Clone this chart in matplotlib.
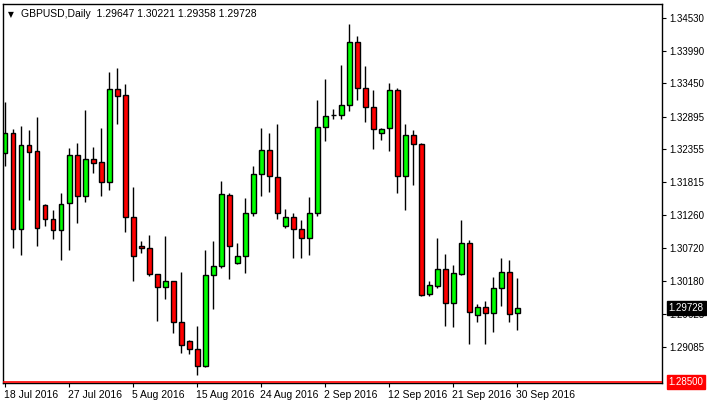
import matplotlib
matplotlib.use("Agg")
import matplotlib.pyplot as plt
from matplotlib.patches import Rectangle
import matplotlib.transforms as mtrans

plt.rcParams['font.family'] = ['Liberation Sans', 'DejaVu Sans']

opens = [1.3229,1.3263,1.3104,1.3243,1.3233,1.3143,1.3120,1.3102,1.3147,1.3226,
         1.3158,1.3220,1.3215,1.3182,1.3336,1.3326,1.3123,1.3075,1.3072,1.3029,
         1.3007,1.3017,1.2949,1.2918,1.2905,1.2876,1.3027,1.3042,1.3160,1.3047,
         1.3059,1.3130,1.3195,1.3234,1.3190,1.3109,1.3123,1.3104,1.3089,1.3130,
         1.3273,1.3292,1.3292,1.3309,1.3413,1.3337,1.3306,1.3263,1.3271,1.3334,
         1.3191,1.3259,1.3244,1.2996,1.3009,1.3037,1.2981,1.3029,1.3080,1.2961,
         1.2974,1.2964,1.3006,1.3032,1.29647]
highs = [1.3314,1.3269,1.3274,1.3268,1.3289,1.3144,1.3135,1.3163,1.3238,1.3246,
         1.3301,1.3239,1.3271,1.3364,1.3370,1.3344,1.3173,1.3084,1.3094,1.3029,
         1.3092,1.3017,1.3032,1.2920,1.2943,1.3069,1.3084,1.3183,1.3163,1.3080,
         1.3155,1.3208,1.3271,1.3263,1.3278,1.3137,1.3130,1.3118,1.3157,1.3317,
         1.3352,1.3302,1.3375,1.3443,1.3423,1.3374,1.3334,1.3271,1.3345,1.3337,
         1.3278,1.3268,1.3246,1.3017,1.3089,1.3062,1.3044,1.3118,1.3085,1.2979,
         1.2984,1.3024,1.3055,1.3052,1.30221]
lows = [1.3208,1.3072,1.3061,1.3152,1.3075,1.3109,1.3087,1.3052,1.3069,1.3114,
        1.3148,1.3196,1.3158,1.3168,1.3278,1.3099,1.3017,1.3064,1.3026,1.2951,
        1.2988,1.2931,1.2898,1.2896,1.2862,1.2874,1.2971,1.3039,1.3021,1.3046,
        1.3031,1.3125,1.3158,1.3165,1.3120,1.3105,1.3056,1.3056,1.3061,1.3125,
        1.3249,1.3286,1.3286,1.3299,1.3317,1.3281,1.3236,1.3251,1.3233,1.3163,
        1.3135,1.3176,1.2993,1.2993,1.3006,1.2943,1.2941,1.3027,1.2913,1.2949,
        1.2913,1.2933,1.2976,1.2949,1.29358]
closes = [1.3263,1.3104,1.3243,1.3231,1.3105,1.3120,1.3102,1.3145,1.3226,1.3158,
          1.3220,1.3213,1.3182,1.3336,1.3324,1.3123,1.3059,1.3072,1.3029,1.3007,
          1.3017,1.2949,1.2911,1.2905,1.2876,1.3027,1.3042,1.3162,1.3075,1.3059,
          1.3130,1.3195,1.3234,1.3191,1.3130,1.3123,1.3104,1.3089,1.3130,1.3273,
          1.3291,1.3293,1.3309,1.3413,1.3337,1.3306,1.3269,1.3269,1.3334,1.3191,
          1.3259,1.3244,1.2994,1.3011,1.3037,1.2981,1.3031,1.3080,1.2966,1.2974,
          1.2964,1.3006,1.3032,1.2962,1.29728]

date_labels = ["18 Jul 2016","27 Jul 2016","5 Aug 2016","15 Aug 2016","24 Aug 2016",
               "2 Sep 2016","12 Sep 2016","21 Sep 2016","30 Sep 2016"]
date_idx = [0, 8, 16, 24, 32, 40, 48, 56, 64]
price_ticks = [1.34530,1.33990,1.33450,1.32895,1.32355,1.31815,1.31260,1.30720,1.30180,1.29625,1.29085]
last_price = 1.29728
bottom_price = 1.28500
title = "GBPUSD,Daily  1.29647 1.30221 1.29358 1.29728"

W, H = 707, 407
fig = plt.figure(figsize=(W/100, H/100), dpi=100)
ax = fig.add_axes([3/W, 1-383/H, 659/W, 379/H])
ax.set_xlim(-0.25, 82.1)
ax.set_ylim(1.34828-0.0001657*383, 1.34828-0.0001657*4)

bw = 0.62
for i,(o,h,l,c) in enumerate(zip(opens,highs,lows,closes)):
    ax.plot([i,i],[l,h],color='black',lw=1.0,zorder=1,solid_capstyle='butt')
    col = '#00ff00' if c >= o else '#ff0000'
    bot = min(o,c); ht = max(abs(c-o), 0.00004)
    ax.add_patch(Rectangle((i-bw/2, bot), bw, ht, facecolor=col, edgecolor='black', lw=1.0, zorder=2))

ax.axhline(bottom_price, color='#ff0000', lw=1.2, zorder=3)

ax.yaxis.tick_right()
ax.set_yticks(price_ticks)
ax.set_yticklabels([f"{v:.5f}" for v in price_ticks])
ax.tick_params(axis='y', length=3, labelsize=7, pad=2)
ax.set_xticks(date_idx)
ax.set_xticklabels(date_labels, ha='left')
ax.tick_params(axis='x', length=3, labelsize=7.5, pad=2)
off = mtrans.ScaledTranslation(-1/72, 0, fig.dpi_scale_trans)
for lab in ax.get_xticklabels():
    lab.set_transform(lab.get_transform() + off)
for s in ax.spines.values():
    s.set_color('black'); s.set_linewidth(1)

bbox_k = dict(boxstyle='square,pad=0.2', fc='black', ec='black')
ax.text(1.01, last_price, f"{last_price:.5f}", transform=ax.get_yaxis_transform(),
        color='white', fontsize=7, va='center', ha='left', bbox=bbox_k, zorder=5)
bbox_r = dict(boxstyle='square,pad=0.2', fc='#ff0000', ec='#ff0000')
ax.text(1.01, bottom_price, f"{bottom_price:.5f}", transform=ax.get_yaxis_transform(),
        color='white', fontsize=7, va='center', ha='left', bbox=bbox_r, zorder=5)

ax.text(0.008, 0.983, "▼", transform=ax.transAxes, fontsize=5.5, va='top', ha='left',
        color='black', family='DejaVu Sans')
ax.text(0.028, 0.988, title, transform=ax.transAxes, fontsize=7.5, va='top', ha='left', color='black')

fig.savefig("out.png", dpi=100, facecolor='white')
